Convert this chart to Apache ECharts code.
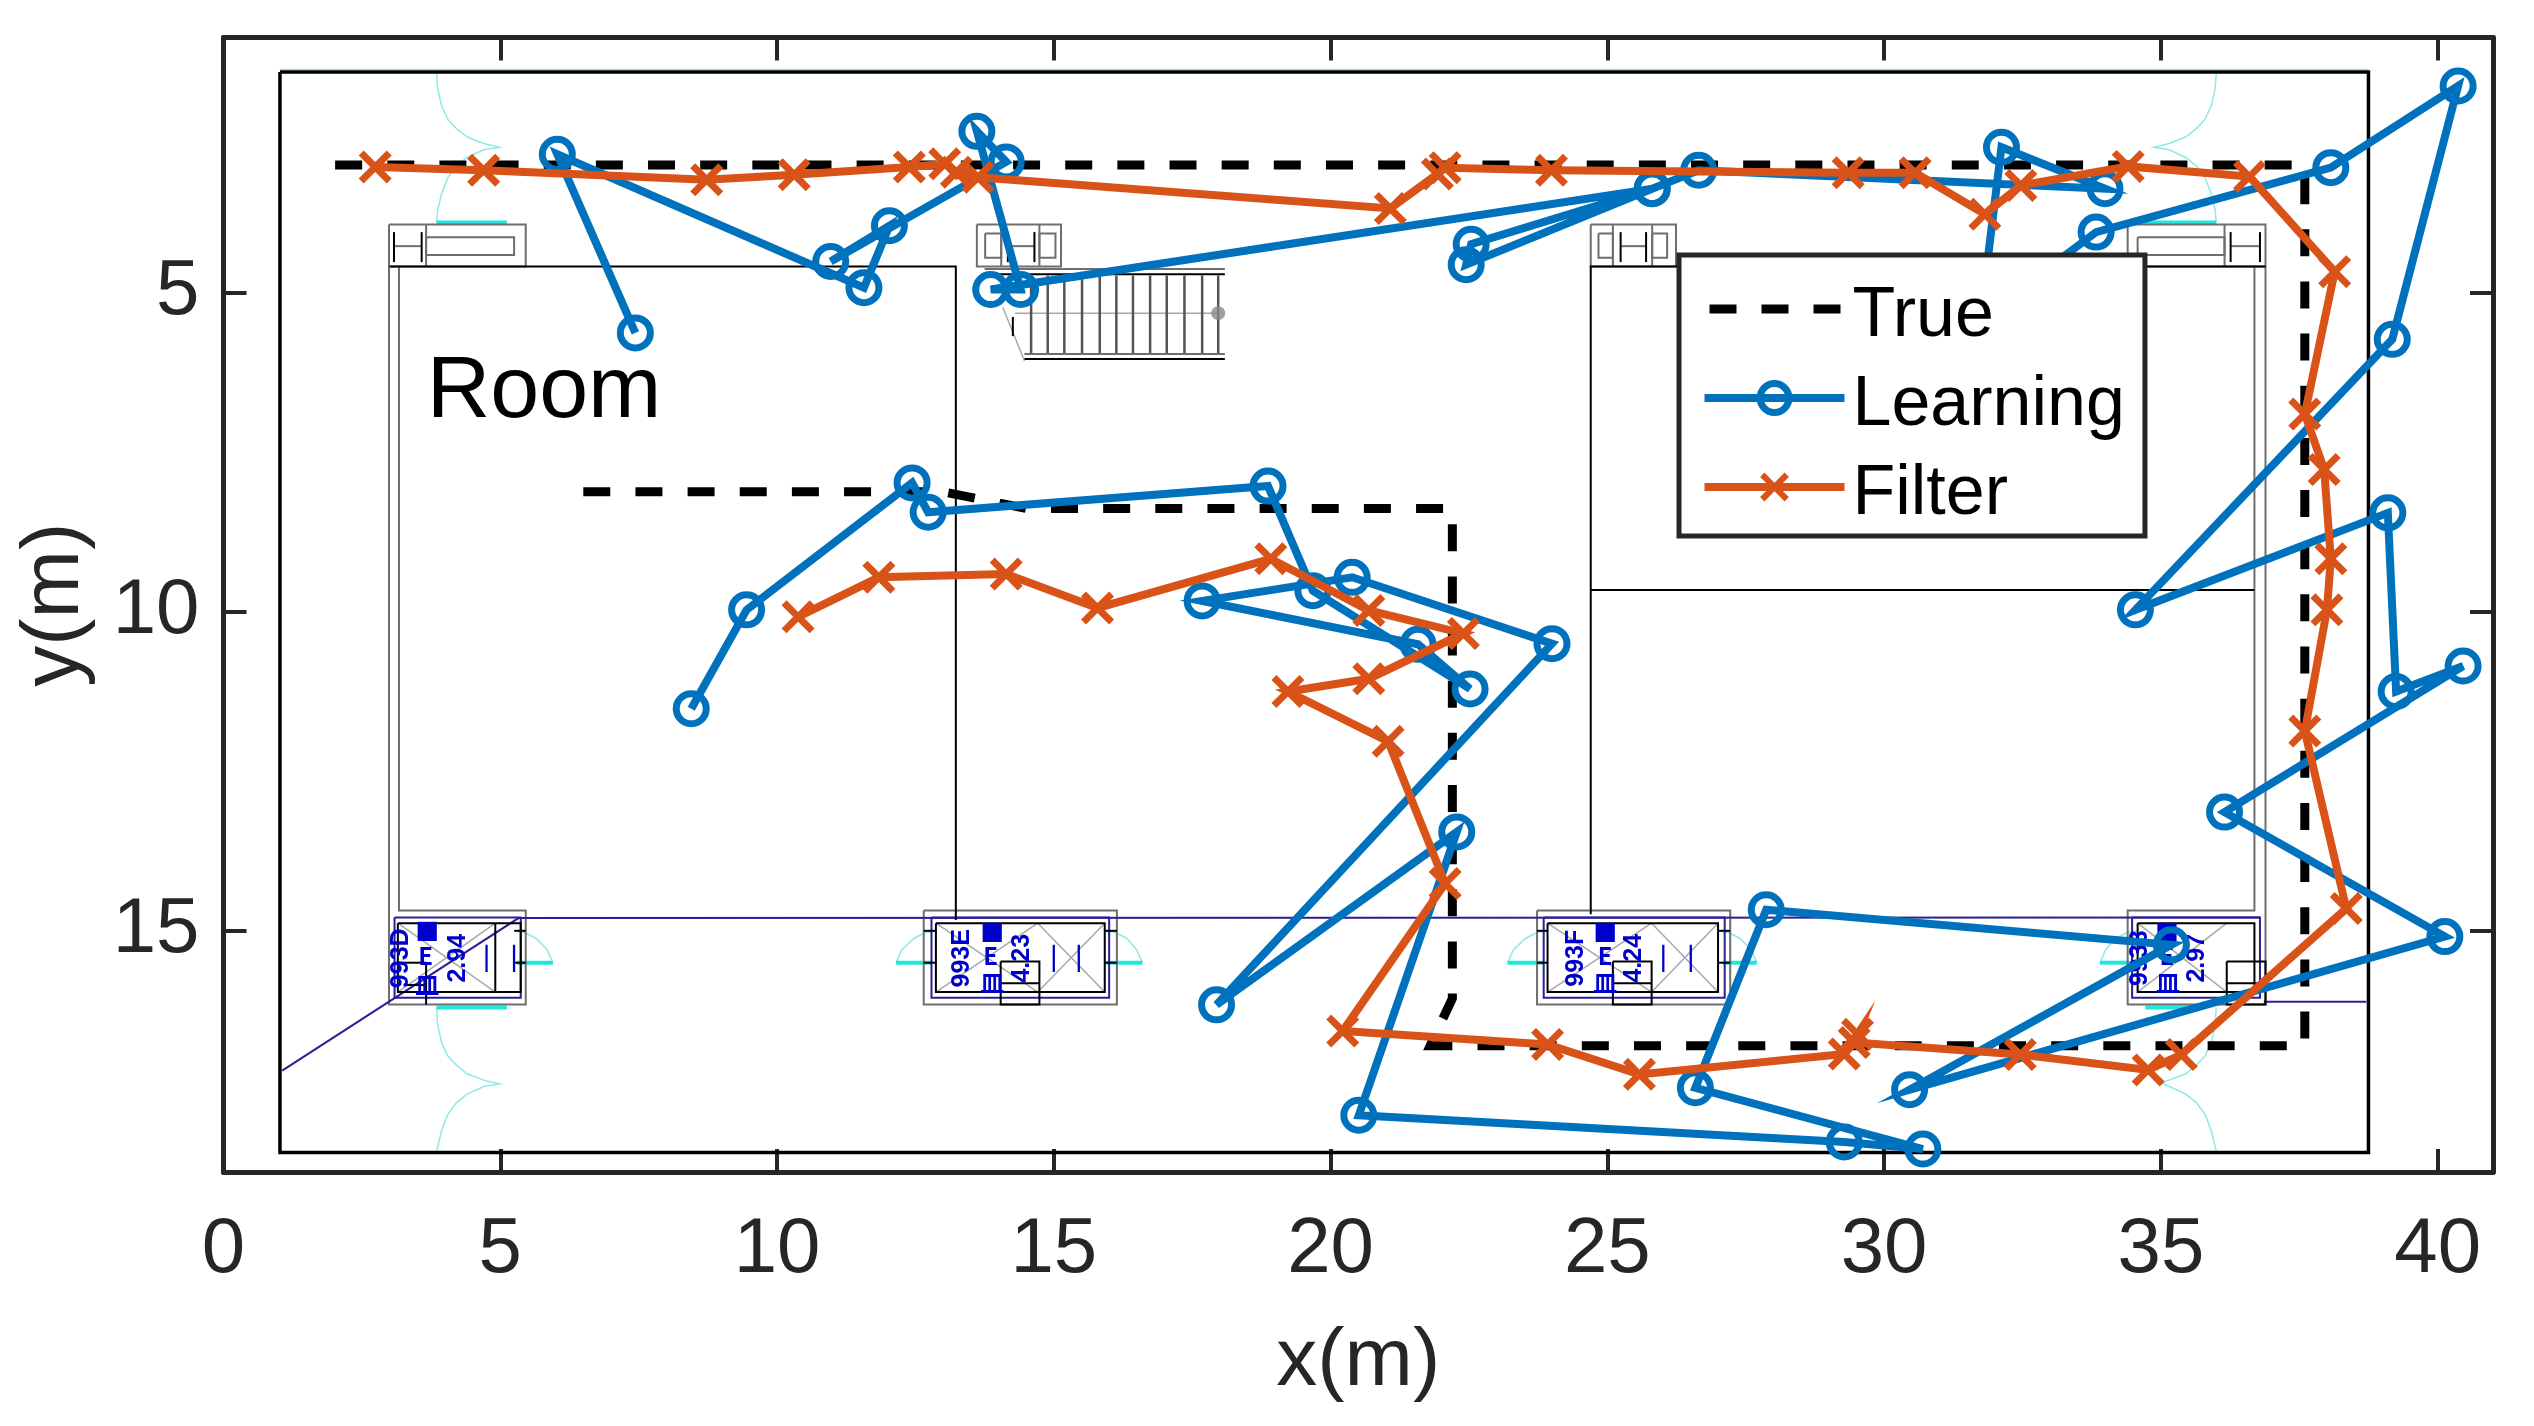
<!DOCTYPE html>
<html><head><meta charset="utf-8">
<script src="https://cdn.jsdelivr.net/npm/echarts@6/dist/echarts.min.js"></script>
<style>html,body{margin:0;padding:0;background:#fff}#c{width:2534px;height:1426px}</style>
</head><body><div id="c"></div>
<script>
const xTicks=[0,5,10,15,20,25,30,35,40];
const yTicks=[5,10,15];
const truePath=[[6.5,8.12],[13,8.12],[14.5,8.38],[22.2,8.38],[22.2,16.06],[21.8,16.8],[37.6,16.8],[37.6,3],[2,3]];
const learningPath=[[7.44,5.63],[6.03,2.83],[11.57,4.92],[12.03,3.95],[10.97,4.51],[14.14,2.95],[13.61,2.47],[14.40,4.95],[13.86,4.95],
[25.81,3.37],[22.45,4.56],[22.54,4.24],[25.81,3.37],[26.65,3.08],[33.99,3.37],[32.12,2.72],[31.74,5.41],[33.83,4.05],[38.07,3.04],[40.37,1.76],[39.18,5.73],[34.54,9.97],[39.10,8.45],[39.25,11.25],[40.46,10.85],[36.15,13.14],[40.13,15.09],[30.46,17.49],[35.19,15.22],[27.87,14.67],[26.59,17.46],[30.70,18.42],[29.28,18.31],[20.51,17.89],[22.28,13.45],[17.94,16.16],[24.0,10.5],[20.39,9.46],[17.68,9.83],[21.58,10.51],[22.52,11.21],[19.68,9.67],[18.87,8.03],[12.73,8.44],[12.44,7.98],[9.45,9.97],[8.45,11.52]];
const filterPath=[[10.38,10.08],[11.84,9.46],[14.14,9.41],[15.79,9.94],[18.92,9.17],[20.69,9.98],[22.40,10.34],[20.69,11.05],[19.23,11.25],[21.04,12.03],[22.07,14.26],[20.22,16.57],[23.92,16.78],[25.58,17.25],[29.28,16.93],[29.52,16.62],[29.46,16.75],[32.46,16.94],[34.77,17.18],[35.37,16.94],[38.35,14.65],[37.6,11.87],[38.0,9.97],[38.07,9.17],[37.95,7.77],[37.6,6.9],[38.14,4.67],[36.6,3.18],[34.41,3.02],[32.47,3.32],[31.82,3.77],[30.56,3.12],[29.35,3.12],[23.99,3.08],[22.07,3.04],[21.93,3.14],[21.08,3.68],[13.63,3.19],[13.24,3.11],[13.03,2.98],[12.39,3.03],[10.31,3.15],[8.73,3.23],[4.70,3.08],[2.74,3.03]];
const r=(a,b,c,d)=>[[a,b],[c,b],[c,d],[a,d],[a,b]];
// floor plan, in metres
const planBlackHeavy=[r(1.02,1.54,38.75,18.475)];
const planBlackThin=[[[3,4.59],[13.23,4.59],[13.23,14.83]],[[24.7,14.74],[24.7,4.59],[36.89,4.59]],[[24.7,9.66],[36.69,9.66]],
 r(3.15,14.88,5.37,15.96),[[4.91,14.88],[4.91,15.96]],r(12.87,14.88,15.92,15.96),r(23.92,14.88,27.0,15.96),r(34.58,14.88,36.69,15.96),
 r(14.04,15.48,14.74,16.155),[[14.04,15.82],[14.74,15.82]],r(25.1,15.48,25.8,16.155),[[25.1,15.82],[25.8,15.82]],r(36.19,15.48,36.89,16.155),[[36.19,15.82],[36.89,15.82]],
 [[3.66,15.5],[3.66,16.155]],[[3.2,15.5],[3.66,15.5]],[[3.3,15.85],[3.66,15.85]],
 [[5.25,15.0],[5.46,15.0]],[[5.25,15.5],[5.46,15.5]],[[12.65,15.0],[12.87,15.0]],[[12.65,15.5],[12.87,15.5]],[[15.92,15.0],[16.14,15.0]],[[15.92,15.5],[16.14,15.5]],
 [[23.73,15.0],[23.92,15.0]],[[23.73,15.5],[23.92,15.5]],[[27.0,15.0],[27.22,15.0]],[[27.0,15.5],[27.22,15.5]],
 [[3.08,4.05],[3.08,4.52]],[[3.58,4.05],[3.58,4.52]],[[14.17,4.05],[14.17,4.52]],[[14.65,4.05],[14.65,4.52]],[[25.24,4.05],[25.24,4.52]],[[25.7,4.05],[25.7,4.52]],[[36.26,4.05],[36.26,4.52]],[[36.79,4.05],[36.79,4.52]],
 [[14.26,5.38],[14.26,5.68]],[[14.47,6.04],[18.09,6.04]],[[13.75,4.71],[18.09,4.71]]];
const planGray=[[[2.99,4.59],[2.99,16.155],[5.46,16.155],[5.46,14.68],[3.17,14.68],[3.17,4.59]],[[36.69,4.59],[36.69,14.68],[34.4,14.68],[34.4,16.155],[36.89,16.155],[36.89,4.59]],
 r(12.65,14.68,16.14,16.155),r(23.73,14.68,27.22,16.155),
 r(2.99,3.93,5.46,4.59),[[3.66,3.93],[3.66,4.59]],[[3.08,4.27],[3.58,4.27]],r(3.66,4.13,5.25,4.41),
 r(13.61,3.93,15.13,4.59),[[14.05,3.93],[14.05,4.59]],[[14.74,3.93],[14.74,4.59]],[[14.17,4.27],[14.65,4.27]],r(13.76,4.07,14.05,4.45),r(14.74,4.07,15.03,4.45),
 r(24.7,3.93,26.24,4.59),[[25.1,3.93],[25.1,4.59]],[[25.81,3.93],[25.81,4.59]],[[25.24,4.27],[25.7,4.27]],r(24.84,4.07,25.1,4.45),r(25.81,4.07,26.08,4.45),
 r(34.4,3.93,36.89,4.59),[[36.15,3.93],[36.15,4.59]],[[36.26,4.27],[36.79,4.27]],r(34.58,4.13,36.15,4.41),
 [[13.75,4.63],[18.09,4.63]],[[14.47,5.96],[18.09,5.96]]];
const stairBars=[14.59,14.89,15.19,15.51,15.83,16.13,16.43,16.74,17.04,17.36,17.68,17.97];
const planPale=[[[14.3,5.32],[17.97,5.32]],[[14.08,5.23],[14.47,6.07]],
 [[3.15,14.88],[4.91,15.96]],[[3.15,15.96],[4.91,14.88]],[[12.87,14.88],[14.71,15.96]],[[12.87,15.96],[14.71,14.88]],[[14.71,14.88],[15.92,15.96]],[[14.71,15.96],[15.92,14.88]],
 [[23.92,14.88],[25.8,15.96]],[[23.92,15.96],[25.8,14.88]],[[25.8,14.88],[27.0,15.96]],[[25.8,15.96],[27.0,14.88]],[[34.58,14.88],[36.19,15.96]],[[34.58,15.96],[36.19,14.88]]];
const planNavy=[[[1.06,17.19],[5.33,14.8],[36.79,14.79]],[[36.86,16.11],[38.71,16.11]],r(3.09,14.79,5.37,16.05),r(12.79,14.79,16.0,16.05),r(23.85,14.79,27.12,16.05),r(34.48,14.79,36.79,16.05)];
const planCyan=[[[1.02,1.5],[38.75,1.5]],
 [[3.85,1.57],[3.87,1.8],[3.94,2.07],[4.05,2.28],[4.2,2.42],[4.4,2.56],[4.7,2.66],[4.99,2.72],[4.7,2.76],[4.4,2.88],[4.2,3.02],[4.05,3.2],[3.94,3.45],[3.87,3.7],[3.85,3.9]],
 [[36.0,1.57],[35.98,1.8],[35.91,2.07],[35.8,2.28],[35.65,2.42],[35.45,2.56],[35.15,2.66],[34.87,2.72],[35.15,2.76],[35.45,2.88],[35.65,3.02],[35.8,3.2],[35.91,3.45],[35.98,3.7],[36.0,3.9]],
 [[3.85,16.2],[3.87,16.48],[3.94,16.75],[4.05,16.96],[4.2,17.1],[4.4,17.24],[4.7,17.34],[4.99,17.4],[4.7,17.44],[4.4,17.56],[4.2,17.7],[4.05,17.88],[3.94,18.13],[3.87,18.38],[3.85,18.45]],
 [[36.0,16.2],[35.98,16.48],[35.91,16.75],[35.8,16.96],[35.65,17.1],[35.45,17.24],[35.15,17.34],[35.01,17.38],[35.15,17.44],[35.45,17.56],[35.65,17.7],[35.8,17.88],[35.91,18.13],[35.98,18.38],[36.0,18.45]],
 [[5.25,15.0],[5.45,15.03],[5.65,15.12],[5.85,15.3],[5.95,15.5]],[[12.87,15.0],[12.67,15.03],[12.47,15.12],[12.25,15.3],[12.15,15.5]],[[15.92,15.0],[16.12,15.03],[16.32,15.12],[16.5,15.3],[16.6,15.5]],
 [[23.92,15.0],[23.72,15.03],[23.52,15.12],[23.3,15.3],[23.2,15.5]],[[27.0,15.0],[27.2,15.03],[27.4,15.12],[27.6,15.3],[27.7,15.5]],[[34.58,15.0],[34.38,15.03],[34.18,15.12],[34.0,15.3],[33.9,15.5]]];
const planCyanThick=[[[3.85,3.9],[5.12,3.9]],[[34.58,3.9],[36.0,3.9]],[[3.85,16.2],[5.12,16.2]],[[34.72,16.2],[35.58,16.2]],
 [[5.3,15.5],[5.95,15.5]],[[12.15,15.5],[12.8,15.5]],[[15.95,15.5],[16.6,15.5]],[[23.2,15.5],[23.85,15.5]],[[27.1,15.5],[27.7,15.5]],[[33.9,15.5],[34.45,15.5]]];
const stairDot=[[17.97,5.32]];
const rotatedLabels=[['993D',3.2,15.43],['2.94',4.23,15.43],['993E',13.35,15.43],['4.23',14.42,15.43],['993F',24.44,15.43],['4.24',25.48,15.43],['9933',34.63,15.43],['2.97',35.65,15.43]];
const glyphLabels=[['■',3.68,15.0],['E',3.65,15.4],['皿',3.68,15.85],['■',13.89,15.01],['E',13.86,15.4],['皿',13.89,15.82],['■',24.96,15.01],['E',24.96,15.4],['皿',24.96,15.82],['■',35.11,15.01],['E',35.11,15.4],['皿',35.13,15.82],
 ['|',4.75,15.4],['|',5.25,15.4],['|',15.0,15.4],['|',15.45,15.4],['|',26.01,15.4],['|',26.51,15.4]];
const roomLabel=[['Room',3.67,7.25]];

const AX='#262626',F='Liberation Sans',BLUE='#0072BD',ORANGE='#D95319';
const XSYM='path://M15,0L50,35L85,0L100,15L65,50L100,85L85,100L50,65L15,100L0,85L35,50L0,15Z';
function plan(name,list,color,width){return {type:'lines',name,coordinateSystem:'cartesian2d',polyline:true,silent:true,clip:false,z:1,
  data:list.map(c=>({coords:c})),lineStyle:{color,width,opacity:1,curveness:0}};}
function textSeries(list,style,rot){return {type:'custom',coordinateSystem:'cartesian2d',silent:true,clip:false,z:1,
  data:list.map(d=>[d[1],d[2]]),encode:{x:0,y:1},
  renderItem:(p,api)=>{const c=api.coord([api.value(0),api.value(1)]);
    return {type:'text',x:c[0],y:c[1],rotation:rot,style:Object.assign({text:list[p.dataIndex][0],align:'center',verticalAlign:'middle'},style)};}};}
const stairLines=stairBars.map(x=>[[x,4.73],[x,5.96]]);
const axisCommon={axisLine:{show:true,onZero:false,lineStyle:{color:AX,width:5}},splitLine:{show:false}};
const chart=echarts.init(document.getElementById('c'),null,{renderer:'canvas'});
chart.setOption({animation:false,backgroundColor:'#fff',
 grid:{left:223.5,top:37.5,width:2269.5,height:1134.5,containLabel:false},
 legend:{data:[
   {name:'True',itemStyle:{color:'transparent',borderWidth:0,opacity:0},lineStyle:{width:9,type:[27,25,27,25,27,200],cap:'butt',dashOffset:-5}},
   {name:'Learning',itemStyle:{color:'transparent',borderColor:BLUE,borderWidth:7},lineStyle:{width:8}},
   {name:'Filter',lineStyle:{width:8}}],
  left:1679,top:255,z:20,orient:'vertical',backgroundColor:'#fff',borderColor:AX,borderWidth:5,borderRadius:0,
  padding:[11,20,6,21],itemWidth:140,itemHeight:36,itemGap:3,
  formatter:'{t|{name}}',
  textStyle:{fontFamily:F,fontSize:70,color:'#000',rich:{t:{fontFamily:F,fontSize:70,color:'#000',lineHeight:70,padding:[16,0,0,3]}}}},
 xAxis:[
  Object.assign({type:'value',min:0,max:41,position:'bottom',name:'x(m)',nameLocation:'middle',nameGap:149,nameTextStyle:{fontFamily:F,fontSize:82,color:AX},
   axisTick:{show:true,inside:true,length:23,lineStyle:{color:AX,width:4},customValues:xTicks},
   axisLabel:{show:true,customValues:xTicks,fontFamily:F,fontSize:78,color:AX,margin:39}},axisCommon),
  Object.assign({type:'value',min:0,max:41,position:'top',axisTick:{show:true,inside:true,length:23,lineStyle:{color:AX,width:4},customValues:xTicks},axisLabel:{show:false}},axisCommon)],
 yAxis:[
  Object.assign({type:'value',min:1,max:18.78,inverse:true,position:'left',name:'y(m)',nameLocation:'middle',nameGap:127,nameRotate:90,nameTextStyle:{fontFamily:F,fontSize:82,color:AX},
   axisTick:{show:true,inside:true,length:23,lineStyle:{color:AX,width:4},customValues:yTicks},
   axisLabel:{show:true,customValues:yTicks,fontFamily:F,fontSize:78,color:AX,margin:24}},axisCommon),
  Object.assign({type:'value',min:1,max:18.78,inverse:true,position:'right',axisTick:{show:true,inside:true,length:23,lineStyle:{color:AX,width:4},customValues:yTicks},axisLabel:{show:false}},axisCommon)],
 series:[
  plan('cyan',planCyan,'#8eeae5',1.5),
  plan('cyanThick',planCyanThick,'#22e6de',4),
  plan('pale',planPale,'#a8a8a8',1.5),
  plan('stairs',stairLines,'#555',2.5),
  plan('gray',planGray,'#6e6e6e',2),
  plan('navy',planNavy,'#2a1f96',2),
  plan('blackThin',planBlackThin,'#000',2),
  plan('blackHeavy',planBlackHeavy,'#000',3.5),
  {type:'scatter',silent:true,z:1,data:stairDot,symbolSize:14,itemStyle:{color:'#888'}},
  textSeries(rotatedLabels,{fill:'#0000cc',font:'bold 25px "Liberation Sans"'},Math.PI/2),
  textSeries(glyphLabels,{fill:'#0000cc',font:'bold 24px "Noto Sans CJK SC"'},0),
  textSeries(roomLabel,{fill:'#000',font:'88px "Liberation Sans"',align:'left',verticalAlign:'bottom'},0),
  {type:'line',name:'True',data:truePath,symbol:'none',clip:false,z:3,lineStyle:{color:'#000',width:9,type:[27,25.15],cap:'butt',join:'miter'},itemStyle:{color:'#000'}},
  {type:'line',name:'Learning',data:learningPath,symbol:'circle',symbolSize:30,showSymbol:true,clip:false,z:4,
   lineStyle:{color:BLUE,width:8,join:'miter',miterLimit:10},itemStyle:{color:'transparent',borderColor:BLUE,borderWidth:7}},
  {type:'line',name:'Filter',data:filterPath,symbol:XSYM,symbolSize:33,showSymbol:true,clip:false,z:5,
   lineStyle:{color:ORANGE,width:8,join:'miter',miterLimit:10},itemStyle:{color:ORANGE}}
 ]});
</script></body></html>
